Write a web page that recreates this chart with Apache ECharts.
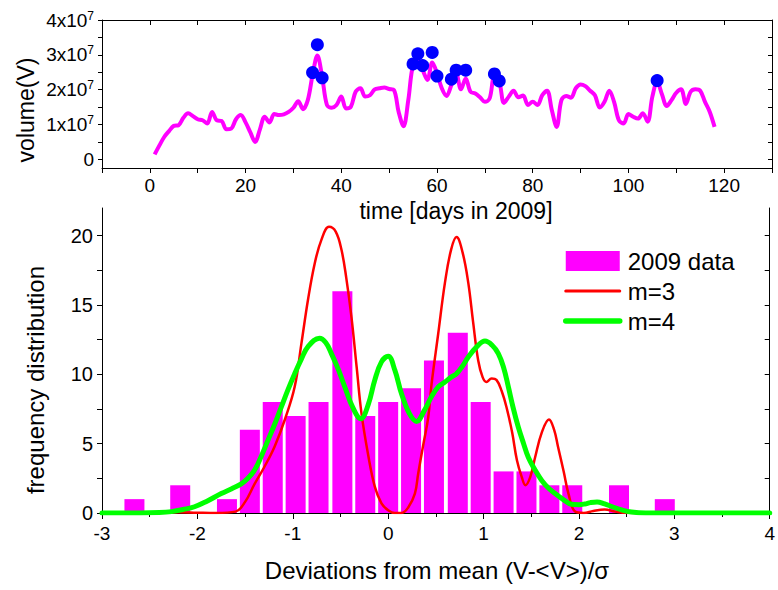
<!DOCTYPE html>
<html>
<head>
<meta charset="utf-8">
<script src="https://cdn.jsdelivr.net/npm/echarts@6/dist/echarts.min.js"></script>
<style>
  html, body { margin: 0; padding: 0; background: #fff; }
  #chart { width: 778px; height: 590px; }
</style>
</head>
<body>
<div id="chart"></div>
<script>
// ---- Daily trading volume, 2009 (units of 1e7), day 1 .. 118 ----
const volumeE7 = [
  0.14, 0.40, 0.64, 0.81, 0.96, 0.98, 1.19, 1.32, 1.24, 1.15,
  1.12, 1.03, 1.36, 1.12, 1.10, 0.86, 0.88, 1.15, 1.27, 1.06,
  0.77, 0.50, 0.86, 1.22, 1.06, 1.30, 1.27, 1.29, 1.36, 1.48,
  1.67, 1.44, 1.70, 2.42, 2.98, 2.37, 1.56, 1.48, 1.56, 1.80,
  1.46, 1.51, 1.94, 2.04, 1.80, 1.84, 2.01, 2.04, 2.06, 2.02,
  1.99, 1.35, 0.95, 1.70, 2.71, 2.80, 2.56, 2.28, 2.78, 2.47,
  2.04, 1.82, 2.13, 2.47, 2.01, 2.32, 1.94, 1.89, 1.78, 1.65,
  1.75, 2.37, 2.23, 1.62, 1.80, 1.97, 1.78, 1.83, 1.56, 1.65,
  1.56, 1.84, 1.97, 1.41, 0.93, 1.70, 1.82, 1.77, 2.04, 2.15,
  2.10, 1.97, 1.84, 1.49, 1.65, 1.97, 1.65, 1.12, 1.03, 1.30,
  1.22, 1.17, 1.32, 1.08, 1.80, 2.23, 1.87, 1.53, 1.70, 1.91,
  2.01, 1.59, 1.94, 2.01, 1.97, 1.65, 1.36, 0.93
];

// High-volume days (day, volume in 1e7)
const peakDays   = [34, 35, 36, 55, 56, 57, 59, 60, 63, 64, 66, 72, 73, 106];
const peakVolume = [2.49, 3.29, 2.34, 2.74, 3.03, 2.69, 3.07, 2.39, 2.30, 2.56, 2.56, 2.45, 2.25, 2.26];

// ---- Histogram of deviations from the mean ----
const binCenters = [-2.66, -2.18, -1.69, -1.45, -1.21, -0.97, -0.73, -0.48, -0.24, 0.00,
                     0.24,  0.48,  0.73,  0.97,  1.21,  1.45,  1.69,  1.93,  2.42, 2.90];
const binCounts  = [1, 2, 1, 6, 8, 7, 8, 16, 7, 8,
                    9, 11, 13, 8, 3, 3, 2, 2, 2, 1];

// Model curves: m=3 and m=4
const m3X = [-3.0, -2.5, -2.2, -2.0, -1.8, -1.6, -1.5, -1.4, -1.3, -1.19, -1.08, -0.98, -0.91, -0.84,
             -0.77, -0.70, -0.62, -0.55, -0.49, -0.44, -0.385, -0.33, -0.28, -0.21, -0.14, -0.07, 0.0,
             0.07, 0.14, 0.21, 0.28, 0.315, 0.37, 0.42, 0.455, 0.525, 0.595, 0.66, 0.717, 0.78, 0.84,
             0.89, 0.944, 0.99, 1.03, 1.085, 1.135, 1.19, 1.24, 1.30, 1.35, 1.40, 1.44, 1.49, 1.54,
             1.61, 1.686, 1.74, 1.78, 1.84, 1.89, 1.96, 2.05, 2.15, 2.27, 2.38, 2.5, 3.0, 4.0];
const m3Y = [0, 0, 0.05, 0.02, 0, 0.1, 0.8, 2.1, 3.3, 4.8, 6.8, 9.1, 12.2, 15.4,
             18.0, 19.7, 20.65, 20.3, 19.0, 17.0, 14.15, 10.5, 7.2, 4.2, 1.9, 0.7, 0.2,
             0, 0, 0.4, 1.4, 2.85, 5.0, 6.9, 9.3, 12.95, 16.6, 19.0, 19.9, 18.8, 16.6,
             13.8, 11.0, 9.8, 9.45, 9.7, 9.6, 8.8, 7.65, 5.8, 3.8, 2.6, 2.0, 2.6, 4.0,
             5.8, 6.75, 6.0, 4.8, 3.0, 1.4, 0.1, 0, 0.15, 0.25, 0.1, 0, 0, 0];

const m4X = [-3.0, -2.6, -2.4, -2.27, -2.15, -2.03, -1.9, -1.75, -1.64, -1.54, -1.47, -1.40, -1.33,
             -1.26, -1.19, -1.12, -1.05, -0.98, -0.91, -0.84, -0.72, -0.655, -0.595, -0.525, -0.455,
             -0.37, -0.287, -0.21, -0.14, -0.07, 0.0, 0.07, 0.14, 0.22, 0.297, 0.38, 0.455, 0.525,
             0.595, 0.66, 0.717, 0.78, 0.84, 0.93, 1.015, 1.09, 1.155, 1.21, 1.26, 1.31, 1.364, 1.42,
             1.47, 1.54, 1.61, 1.68, 1.75, 1.84, 1.92, 2.0, 2.06, 2.12, 2.19, 2.27, 2.35, 2.45, 2.55,
             2.7, 4.0];
const m4Y = [0, 0, 0.03, 0.1, 0.25, 0.45, 0.85, 1.4, 1.75, 2.1, 2.5, 3.1, 4.1,
             5.25, 6.4, 7.65, 8.9, 10.05, 11.1, 12.0, 12.6, 12.3, 11.5, 10.4, 9.1,
             7.6, 6.8, 7.8, 9.6, 10.9, 11.3, 10.3, 8.6, 7.2, 6.6, 7.4, 8.4, 9.1,
             9.45, 9.8, 10.05, 10.6, 11.25, 12.0, 12.4, 12.1, 11.5, 10.5, 9.1, 7.6, 6.2, 5.0,
             4.0, 3.1, 2.35, 1.8, 1.4, 0.95, 0.63, 0.6, 0.65, 0.75, 0.8, 0.65, 0.45, 0.22, 0.07,
             0, 0];

// ---- Tick positions and labels ----
const timeTicks  = [-10, 0, 10, 20, 30, 40, 50, 60, 70, 80, 90, 100, 110, 120, 130];
const timeLabels = [0, 20, 40, 60, 80, 100, 120];
const volTicks   = [0, 0.5e7, 1e7, 1.5e7, 2e7, 2.5e7, 3e7, 3.5e7, 4e7];
const volLabels  = [0, 1e7, 2e7, 3e7, 4e7];
const freqTicks  = [0, 2.5, 5, 7.5, 10, 12.5, 15, 17.5, 20];
const freqLabels = [0, 5, 10, 15, 20];

const FONT = "'Liberation Sans', Arial, Helvetica, sans-serif";
const BLACK = '#000';

const volumeSeries = volumeE7.map((v, i) => [i + 1, v * 1e7]);
const peakSeries = peakDays.map((d, i) => [d, peakVolume[i] * 1e7]);
const histSeries = binCenters.map((x, i) => [x, binCounts[i]]);
const m3Series = m3X.map((x, i) => [x, m3Y[i]]);
const m4Series = m4X.map((x, i) => [x, m4Y[i]]);

const lineBlack = { color: BLACK, width: 1 };

function frameAxis(extra) {
  return Object.assign({
    type: 'value',
    axisLine: { show: true, onZero: false, lineStyle: lineBlack },
    splitLine: { show: false },
    axisLabel: { color: BLACK, fontFamily: FONT }
  }, extra);
}

const chart = echarts.init(document.getElementById('chart'), null, { renderer: 'svg' });

chart.setOption({
  animation: false,
  backgroundColor: '#fff',
  textStyle: { fontFamily: FONT, color: BLACK },
  grid: [
    { left: 102, right: 6, top: 20, height: 148 },
    { left: 102, right: 6, top: 208, height: 305 }
  ],
  xAxis: [
    frameAxis({
      gridIndex: 0, position: 'bottom', min: -10, max: 130,
      axisTick: { show: true, length: 5, customValues: timeTicks, lineStyle: lineBlack },
      axisLabel: { customValues: timeLabels, fontSize: 19, margin: 8, color: BLACK, fontFamily: FONT }
    }),
    frameAxis({
      gridIndex: 0, position: 'top', min: -10, max: 130,
      axisTick: { show: true, inside: true, length: 5, customValues: timeTicks, lineStyle: lineBlack },
      axisLabel: { show: false }
    }),
    frameAxis({
      gridIndex: 1, position: 'bottom', min: -3, max: 4, interval: 1,
      axisTick: { show: true, length: 6, lineStyle: lineBlack },
      minorTick: { show: true, splitNumber: 2, length: 4, lineStyle: lineBlack },
      axisLabel: { fontSize: 19, margin: 11, color: BLACK, fontFamily: FONT }
    })
  ],
  yAxis: [
    frameAxis({
      gridIndex: 0, position: 'left', min: -2.5e6, max: 4e7,
      axisTick: { show: true, length: 4, customValues: volTicks, lineStyle: lineBlack },
      axisLabel: {
        customValues: volLabels, margin: 8, color: BLACK, fontFamily: FONT,
        formatter: v => v === 0 ? '{b|0}' : '{b|' + Math.round(v / 1e7) + 'x10}{s|7}',
        rich: {
          b: { fontSize: 19, fontFamily: FONT, color: BLACK },
          s: { fontSize: 12, fontFamily: FONT, color: BLACK, padding: [0, 0, 9, 0] }
        }
      }
    }),
    frameAxis({
      gridIndex: 0, position: 'right', min: -2.5e6, max: 4e7,
      axisTick: { show: true, inside: true, length: 4, customValues: volTicks, lineStyle: lineBlack },
      axisLabel: { show: false }
    }),
    frameAxis({
      gridIndex: 1, position: 'left', min: 0, max: 22,
      axisTick: { show: true, length: 5, customValues: freqTicks, lineStyle: lineBlack },
      axisLabel: { customValues: freqLabels, fontSize: 20, margin: 9, color: BLACK, fontFamily: FONT }
    }),
    frameAxis({
      gridIndex: 1, position: 'right', min: 0, max: 22,
      axisTick: { show: true, inside: true, length: 5, customValues: freqTicks, lineStyle: lineBlack },
      axisLabel: { show: false }
    })
  ],
  legend: {
    orient: 'vertical',
    left: 563, top: 249, padding: 0,
    itemWidth: 54, itemHeight: 20, itemGap: 6,
    textStyle: { fontSize: 24, color: BLACK, fontFamily: FONT, padding: [0, 0, 0, 3] },
    data: [
      { name: '2009 data', icon: 'rect' },
      { name: 'm=3', itemStyle: { opacity: 0, borderWidth: 0 }, lineStyle: { width: 3, cap: 'round' } },
      { name: 'm=4', itemStyle: { opacity: 0, borderWidth: 0 }, lineStyle: { width: 5.5, cap: 'round' } }
    ]
  },
  graphic: [
    { type: 'text', x: 456, y: 211,
      style: { text: 'time [days in 2009]', font: '23px ' + FONT, fill: BLACK, align: 'center', verticalAlign: 'middle' } },
    { type: 'text', x: 26, y: 110, rotation: Math.PI / 2,
      style: { text: 'volume(V)', font: '23px ' + FONT, fill: BLACK, align: 'center', verticalAlign: 'middle' } },
    { type: 'text', x: 35, y: 380, rotation: Math.PI / 2,
      style: { text: 'frequency distribution', font: '24px ' + FONT, fill: BLACK, align: 'center', verticalAlign: 'middle' } },
    { type: 'text', x: 437, y: 570,
      style: { text: 'Deviations from mean (V-<V>)/σ', font: '24px ' + FONT, fill: BLACK, align: 'center', verticalAlign: 'middle' } }
  ],
  series: [
    {
      name: 'volume', type: 'line', xAxisIndex: 0, yAxisIndex: 0,
      data: volumeSeries, smooth: 0.35, symbol: 'none',
      lineStyle: { color: '#ff00ff', width: 4 }, z: 2
    },
    {
      name: 'high volume', type: 'scatter', xAxisIndex: 0, yAxisIndex: 0,
      data: peakSeries, symbolSize: 13,
      itemStyle: { color: '#0000ff', opacity: 1 }, z: 3
    },
    {
      name: '2009 data', type: 'bar', xAxisIndex: 2, yAxisIndex: 2,
      data: histSeries, barWidth: 20,
      itemStyle: { color: '#ff00ff' }, z: 1
    },
    {
      name: 'm=3', type: 'line', xAxisIndex: 2, yAxisIndex: 2,
      data: m3Series, smooth: 0.4, symbol: 'none',
      itemStyle: { color: '#ff0000' },
      lineStyle: { color: '#ff0000', width: 2.5 }, z: 3
    },
    {
      name: 'm=4', type: 'line', xAxisIndex: 2, yAxisIndex: 2,
      data: m4Series, smooth: 0.4, symbol: 'none',
      itemStyle: { color: '#00ff00' },
      lineStyle: { color: '#00ff00', width: 5, cap: 'round' }, z: 4
    }
  ]
});
</script>
</body>
</html>
